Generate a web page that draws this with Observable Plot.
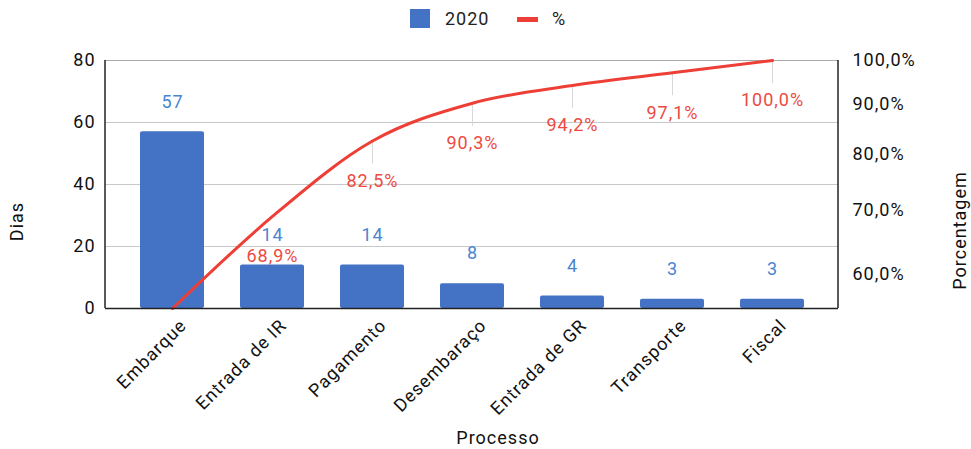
<!DOCTYPE html>
<html><head><meta charset="utf-8">
<script src="https://cdn.jsdelivr.net/npm/d3@7"></script>
<script src="https://cdn.jsdelivr.net/npm/@observablehq/plot@0.6"></script>
<style>
body{margin:0;background:#fff;font-family:Roboto,sans-serif;}
#wrap{position:relative;width:971px;height:449px;}
#legend{position:relative;height:40px;width:971px;font-size:18px;letter-spacing:1px;color:#222;}
#legend .sw{position:absolute;}
#legend .lb{position:absolute;top:7px;line-height:24px;}
#chart{position:absolute;top:40px;left:0;}
</style></head><body>
<div id="wrap">
<div id="legend">
  <div class="sw" style="left:410px;top:9px;width:20px;height:19px;background:#4472c4;"></div>
  <div class="lb" style="left:445px;">2020</div>
  <div class="sw" style="left:517px;top:17px;width:21px;height:5px;background:#ee3f36;"></div>
  <div class="lb" style="left:552px;">%</div>
</div>
<div id="chart"></div>
</div>
<script>
const categories = ["Embarque","Entrada de IR","Pagamento","Desembaraço","Entrada de GR","Transporte","Fiscal"];
const dias = [57,14,14,8,4,3,3];
const pct = [55.3,68.9,82.5,90.3,94.2,97.1,100.0];
const yTicks = [0,20,40,60,80];
const pctTicks = [60,70,80,90,100];

const fmtPct = p => p.toFixed(1).replace(".", ",") + "%";
const toY = d3.scaleLog().domain([pct[0], 100]).range([0, 80]);
const data = categories.map((c, i) => ({cat: c, dias: dias[i], pct: pct[i], yp: toY(pct[i])}));
const labelled = data.slice(1);
const connected = data.slice(2);

const sideLines = (index, scales, values, dim) => {
  const g = d3.create("svg:g");
  const top = dim.marginTop, bot = dim.height - dim.marginBottom;
  [dim.marginLeft, dim.width - dim.marginRight].forEach(x => {
    g.append("line").attr("x1", x).attr("x2", x).attr("y1", top).attr("y2", bot)
      .attr("stroke", "#222").attr("stroke-width", 1.5);
  });
  return g.node();
};

const chart = Plot.plot({
  width: 971, height: 409,
  marginTop: 20, marginBottom: 141, marginLeft: 105, marginRight: 133,
  style: {fontFamily: "Roboto, sans-serif", fontSize: "18px", letterSpacing: "1px", color: "#111", background: "#fff"},
  x: {domain: categories, paddingInner: 0.36, paddingOuter: 0.333},
  y: {domain: [0, 80]},
  marks: [
    Plot.gridY(yTicks.slice(1, 4), {stroke: "#c8c8c8", strokeOpacity: 1}),
    Plot.ruleY([80], {stroke: "#a8a8a8"}),
    Plot.barY(data, {x: "cat", y: "dias", fill: "#4472c4", rx: 2}),
    Plot.ruleX(connected, {x: "cat", y1: "yp", y2: d => d.yp - 7.4, stroke: "#d8d8d8"}),
    Plot.line(data, {x: "cat", y: "yp", stroke: "#ee3f36", strokeWidth: 3, curve: "monotone-x"}),
    Plot.ruleY([0], {stroke: "#222", strokeWidth: 1.5}),
    sideLines,
    Plot.text(data, {x: "cat", y: "dias", text: d => String(d.dias), dy: -30, fill: "#4a86d0", fontSize: 18}),
    Plot.text(labelled, {x: "cat", y: "yp", text: d => fmtPct(d.pct), dy: 40, fill: "#ee4a3f", fontSize: 18}),
    Plot.axisY(yTicks, {anchor: "left", tickSize: 0, tickPadding: 10, label: null, fontSize: 18}),
    Plot.axisY(pctTicks.map(p => toY(p)), {anchor: "right", tickSize: 0, tickPadding: 14, label: null, fontSize: 18,
      tickFormat: v => fmtPct(Math.round(toY.invert(v)))}),
    Plot.axisX({tickRotate: -45, tickSize: 0, tickPadding: 14, dx: 11, label: null, fontSize: 18}),
    Plot.text(["Dias"], {frameAnchor: "left", text: d => d, textAnchor: "middle", dx: -88, dy: 37, rotate: -90, fontSize: 18}),
    Plot.text(["Porcentagem"], {frameAnchor: "right", text: d => d, textAnchor: "middle", dx: 122, dy: 46, rotate: -90, fontSize: 18}),
    Plot.text(["Processo"], {frameAnchor: "bottom", text: d => d, dx: 26, dy: 135, fontSize: 18})
  ]
});
document.getElementById("chart").appendChild(chart);
</script>
</body></html>
